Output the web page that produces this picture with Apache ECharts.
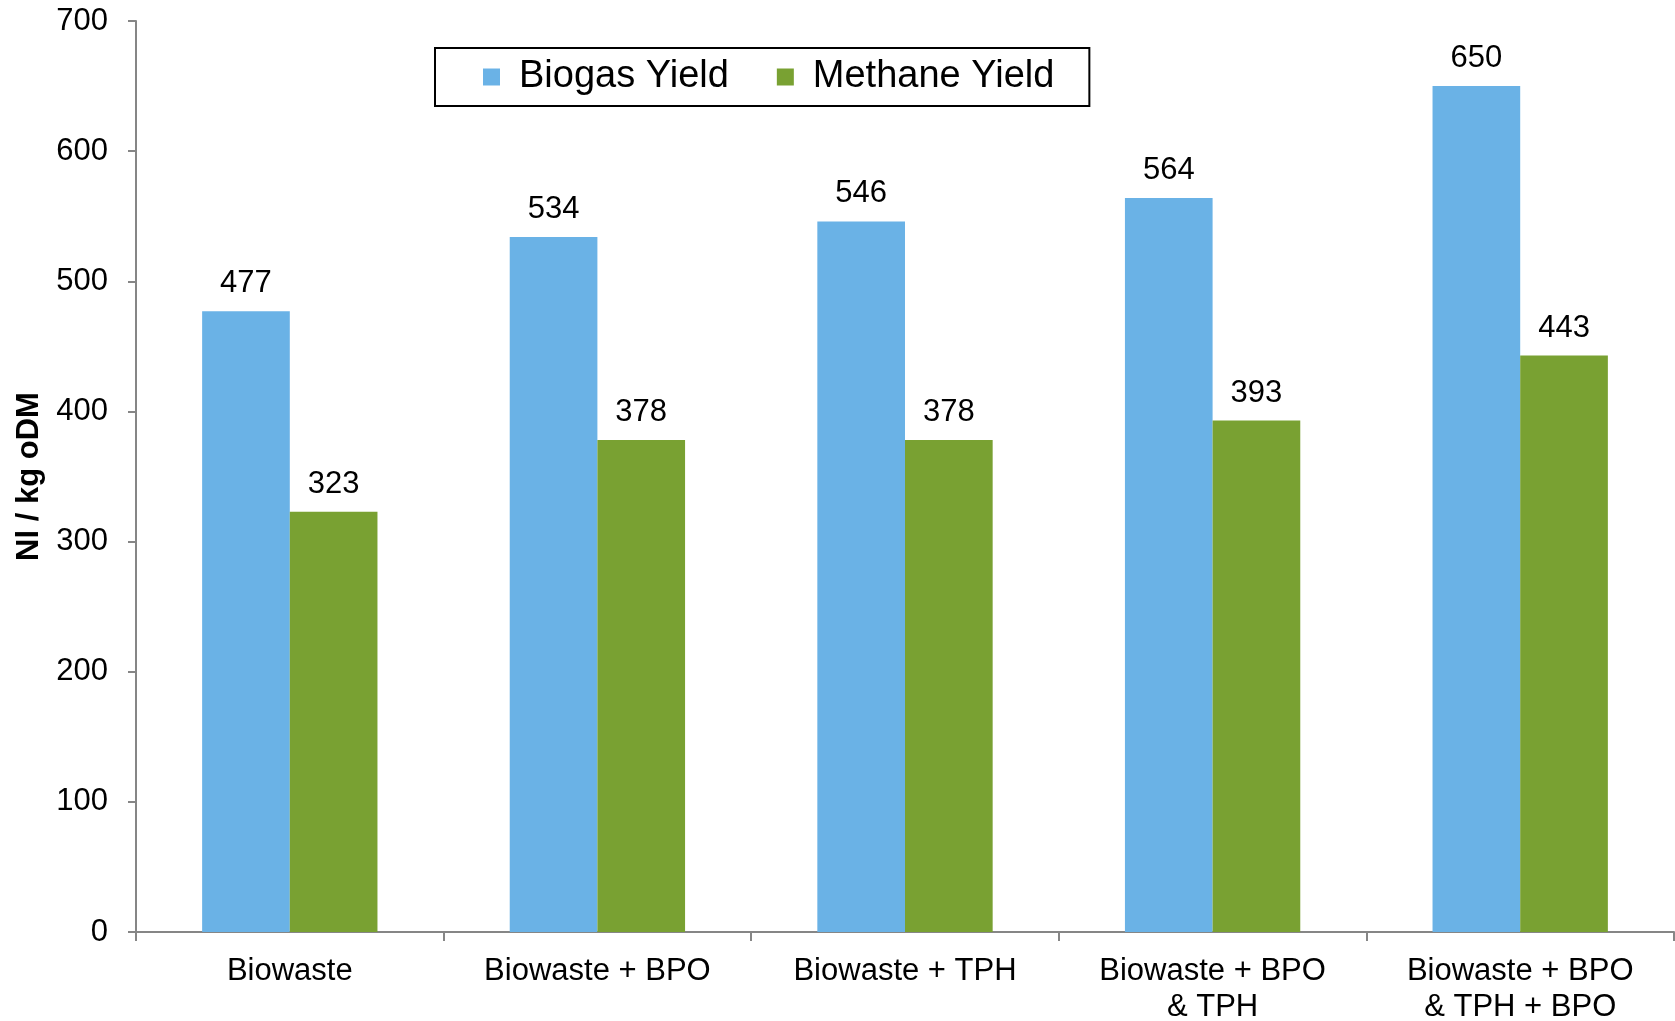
<!DOCTYPE html>
<html>
<head>
<meta charset="utf-8">
<script src="https://cdn.jsdelivr.net/npm/echarts@6/dist/echarts.min.js"></script>
<style>
html,body{margin:0;padding:0;background:#fff;}
#chart1{width:1675px;height:1021px;}
</style>
</head>
<body>
<div id="chart1"></div>
<script>
var categories = ['Biowaste', 'Biowaste + BPO', 'Biowaste + TPH', 'Biowaste + BPO\n& TPH', 'Biowaste + BPO\n& TPH + BPO'];
var biogas = [477, 534, 546, 564, 650];
var methane = [323, 378, 378, 393, 443];
var seriesNames = ['Biogas Yield', 'Methane Yield'];

var font = 'Liberation Sans, Arial, sans-serif';
var axisGray = '#868686';

var myChart = echarts.init(document.getElementById('chart1'));
var option1 = {
    animation: false,
    grid: {
        left: 136,
        right: 1,
        top: 21,
        bottom: 89,
        outerBoundsMode: 'none',
        containLabel: false
    },
    legend: {
        left: 435,
        top: 48,
        padding: [10, 35, 10, 48],
        borderColor: '#000',
        borderWidth: 2,
        itemWidth: 17,
        itemHeight: 17,
        itemGap: 48,
        icon: 'rect',
        formatter: function (name) {
            return '{gap|}' + name;
        },
        textStyle: {
            fontFamily: font,
            fontSize: 38,
            color: '#000',
            rich: {
                gap: { width: 14 }
            }
        },
        data: seriesNames
    },
    xAxis: {
        type: 'category',
        data: categories,
        boundaryGap: true,
        axisLine: {
            lineStyle: { color: axisGray, width: 2 }
        },
        axisTick: {
            show: true,
            length: 9,
            lineStyle: { color: axisGray, width: 2 }
        },
        axisLabel: {
            fontFamily: font,
            fontSize: 31,
            color: '#000',
            margin: 21,
            lineHeight: 36,
            interval: 0
        }
    },
    yAxis: {
        type: 'value',
        min: 0,
        max: 700,
        interval: 100,
        name: 'Nl / kg oDM',
        nameLocation: 'middle',
        nameGap: 89,
        nameRotate: 90,
        nameTextStyle: {
            fontFamily: font,
            fontSize: 31,
            fontWeight: 'bold',
            color: '#000'
        },
        splitLine: { show: false },
        axisLine: {
            show: true,
            lineStyle: { color: axisGray, width: 2 }
        },
        axisTick: {
            show: true,
            length: 8,
            lineStyle: { color: axisGray, width: 2 }
        },
        axisLabel: {
            fontFamily: font,
            fontSize: 31,
            color: '#000',
            margin: 28
        }
    },
    series: [{
        name: seriesNames[0],
        type: 'bar',
        data: biogas,
        barGap: '0%',
        barCategoryGap: '43%',
        itemStyle: { color: '#6AB2E6' },
        label: {
            show: true,
            position: 'top',
            distance: 12,
            fontFamily: font,
            fontSize: 31,
            color: '#000'
        }
    }, {
        name: seriesNames[1],
        type: 'bar',
        data: methane,
        barGap: '0%',
        barCategoryGap: '43%',
        itemStyle: { color: '#79A132' },
        label: {
            show: true,
            position: 'top',
            distance: 12,
            fontFamily: font,
            fontSize: 31,
            color: '#000'
        }
    }]
};
myChart.setOption(option1);
</script>
</body>
</html>
